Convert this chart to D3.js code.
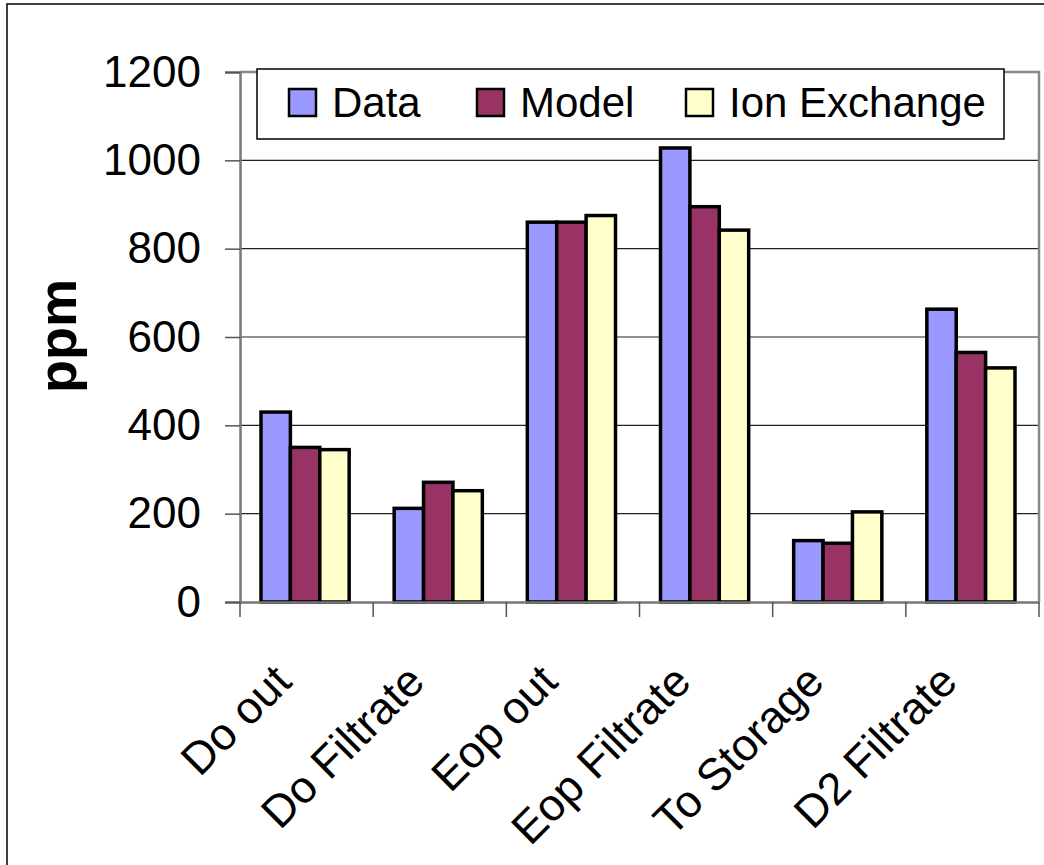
<!DOCTYPE html>
<html>
<head>
<meta charset="utf-8">
<script src="https://cdn.jsdelivr.net/npm/d3@7/dist/d3.min.js"></script>
<style>
  html, body { margin: 0; padding: 0; background: #fff; }
  svg { display: block; }
  text { font-family: "Liberation Sans", Arial, sans-serif; fill: #000; }
</style>
</head>
<body>
<div id="chart"></div>
<script>
// Sampling points along the process
const categories = ["Do out", "Do Filtrate", "Eop out", "Eop Filtrate", "To Storage", "D2 Filtrate"];

// Concentrations (ppm) for each series
const dataValues  = [430, 212, 860, 1028, 139, 663];
const modelValues = [350, 271, 860, 895, 133, 565];
const ionValues   = [345, 252, 875, 842, 204, 530];

const seriesNames  = ["Data", "Model", "Ion Exchange"];
const seriesColors = ["#9999FF", "#993366", "#FFFFCC"];
const yTicks = [0, 200, 400, 600, 800, 1000, 1200];

const series = [dataValues, modelValues, ionValues];

const W = 1044, H = 865;
const plot = { left: 240, right: 1039, top: 72, bottom: 602 };

const svg = d3.select("#chart").append("svg")
  .attr("width", W).attr("height", H);

// Outer chart frame
svg.append("rect")
  .attr("x", 7).attr("y", 4)
  .attr("width", W + 20).attr("height", H + 20)
  .attr("fill", "#fff").attr("stroke", "#000").attr("stroke-width", 1.5);

const x0 = d3.scaleBand()
  .domain(categories)
  .range([plot.left, plot.right])
  .padding(0);

const gapHalf = 21;
const x1 = d3.scaleBand()
  .domain(seriesNames)
  .range([gapHalf, x0.bandwidth() - gapHalf - 3])
  .padding(0);

const y = d3.scaleLinear()
  .domain([0, 1200])
  .range([plot.bottom, plot.top]);

// Horizontal gridlines
svg.append("g")
  .selectAll("line")
  .data(yTicks.filter(v => v > 0 && v < 1200))
  .join("line")
  .attr("x1", plot.left).attr("x2", plot.right)
  .attr("y1", d => y(d)).attr("y2", d => y(d))
  .attr("stroke", "#222").attr("stroke-width", 1.2);

// Plot area frame (top and right)
svg.append("path")
  .attr("d", `M${plot.left},${plot.top}H${plot.right}V${plot.bottom}`)
  .attr("fill", "none").attr("stroke", "#888").attr("stroke-width", 2.5);

// Bars
const groups = svg.append("g")
  .selectAll("g")
  .data(categories)
  .join("g")
  .attr("transform", d => `translate(${x0(d)},0)`);

groups.selectAll("rect")
  .data((d, i) => seriesNames.map((s, k) => ({ s, k, v: series[k][i] })))
  .join("rect")
  .attr("x", d => x1(d.s))
  .attr("width", x1.bandwidth())
  .attr("y", d => y(d.v))
  .attr("height", d => y(0) - y(d.v))
  .attr("fill", d => seriesColors[d.k])
  .attr("stroke", "#000")
  .attr("stroke-width", 3.5)
  .attr("stroke-linejoin", "miter");

// Y axis
const yAxis = svg.append("g")
  .attr("transform", `translate(${plot.left},0)`)
  .call(d3.axisLeft(y).tickValues(yTicks).tickSize(15).tickPadding(24).tickFormat(d3.format("d")));
yAxis.select(".domain").attr("stroke", "#777").attr("stroke-width", 2.5);
yAxis.selectAll(".tick line").attr("stroke", "#555").attr("stroke-width", 1.5);
yAxis.selectAll(".tick text")
  .style("font-family", "'Liberation Sans', Arial, sans-serif")
  .style("font-size", "44px")
  .attr("fill", "#000");

// X axis
const xAxis = svg.append("g")
  .attr("transform", `translate(0,${plot.bottom})`)
  .call(d3.axisBottom(x0).tickSize(0).tickFormat(""));
xAxis.select(".domain").attr("stroke", "#777").attr("stroke-width", 2.5);

// Category separators
const edges = categories.map(c => x0(c)).concat([plot.right]);
svg.append("g")
  .selectAll("line")
  .data(edges)
  .join("line")
  .attr("x1", d => d).attr("x2", d => d)
  .attr("y1", plot.bottom).attr("y2", plot.bottom + 15)
  .attr("stroke", "#555").attr("stroke-width", 1.5);

// Rotated category labels
svg.append("g")
  .selectAll("text")
  .data(categories)
  .join("text")
  .attr("transform", d => `translate(${x0(d) + x0.bandwidth() / 2 - 13},${plot.bottom + 82}) rotate(-45)`)
  .attr("text-anchor", "end")
  .style("font-size", "45px")
  .text(d => d);

// Y axis title
svg.append("text")
  .attr("transform", "translate(76,336) rotate(-90)")
  .attr("text-anchor", "middle")
  .style("font-size", "54px")
  .style("font-weight", "bold")
  .text("ppm");

// Legend
const legend = svg.append("g");
legend.append("rect")
  .attr("x", 257).attr("y", 69)
  .attr("width", 747).attr("height", 70)
  .attr("fill", "#fff").attr("stroke", "#000").attr("stroke-width", 1.5);

const legendX = [289, 477, 686];
const items = legend.selectAll("g.item")
  .data(seriesNames)
  .join("g")
  .attr("class", "item")
  .attr("transform", (d, i) => `translate(${legendX[i]},0)`);
items.append("rect")
  .attr("x", 0).attr("y", 89)
  .attr("width", 27).attr("height", 27)
  .attr("fill", (d, i) => seriesColors[i])
  .attr("stroke", "#000").attr("stroke-width", 2.5);
items.append("text")
  .attr("x", 43).attr("y", 117)
  .style("font-size", "42px")
  .text(d => d);
</script>
</body>
</html>
